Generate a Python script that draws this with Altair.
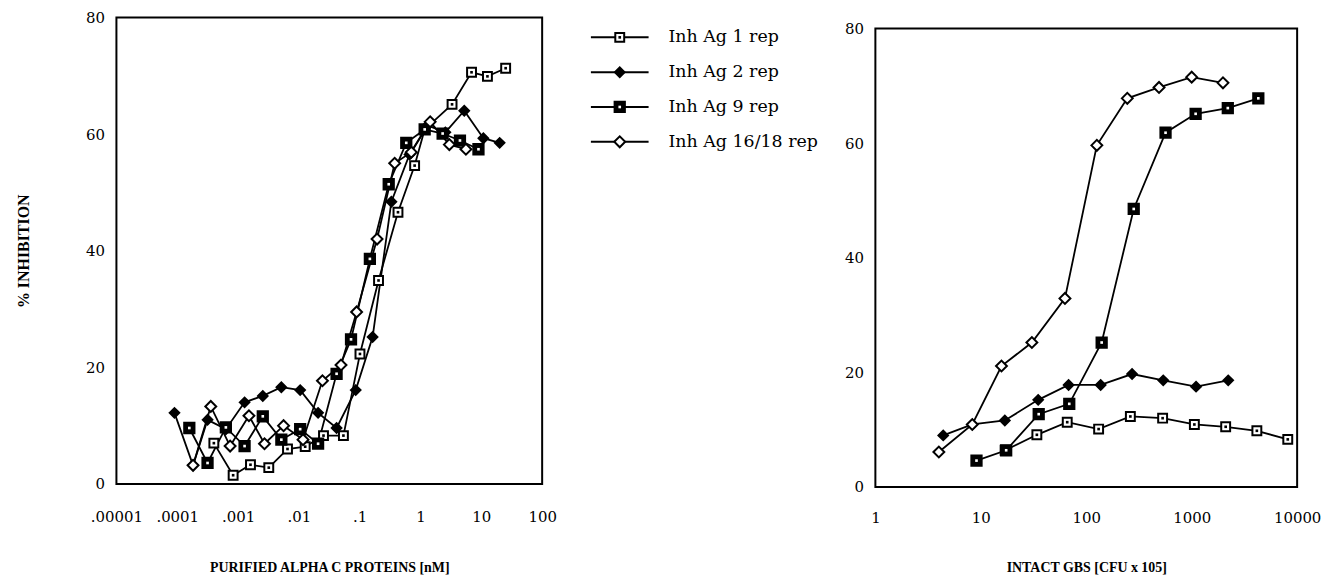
import math
import altair as alt
import pandas as pd

names = ["Inh Ag 1 rep", "Inh Ag 2 rep", "Inh Ag 9 rep", "Inh Ag 16/18 rep"]

# ---- left panel: purified alpha C proteins [nM]
left_ag1_x = [4.0e-4, 8.3e-4, 1.6e-3, 3.2e-3, 6.5e-3, 1.27e-2, 2.54e-2, 5.4e-2, 0.101, 0.204, 0.426, 0.80, 1.17, 3.3, 6.9, 12.6, 25.1]
left_ag1_y = [7.0, 1.5, 3.3, 2.8, 6.0, 6.4, 8.3, 8.3, 22.3, 34.9, 46.6, 54.6, 60.8, 65.1, 70.6, 69.9, 71.3]
left_ag2_x = [9.0e-5, 1.82e-4, 3.15e-4, 6.3e-4, 1.28e-3, 2.55e-3, 5.15e-3, 1.05e-2, 2.07e-2, 4.17e-2, 8.6e-2, 0.163, 0.332, 0.66, 1.30, 2.56, 5.24, 10.8, 20.0]
left_ag2_y = [12.2, 3.2, 11.0, 9.4, 14.0, 15.1, 16.6, 16.1, 12.2, 9.6, 16.1, 25.2, 48.4, 56.5, 61.5, 60.3, 64.0, 59.3, 58.5]
left_ag9_x = [1.58e-4, 3.15e-4, 6.3e-4, 1.28e-3, 2.55e-3, 5.15e-3, 1.05e-2, 2.07e-2, 4.17e-2, 7.2e-2, 0.147, 0.30, 0.583, 1.17, 2.31, 4.45, 8.97]
left_ag9_y = [9.6, 3.6, 9.7, 6.5, 11.6, 7.6, 9.4, 6.9, 18.9, 24.8, 38.6, 51.4, 58.5, 60.8, 60.1, 58.9, 57.4]
left_ag16_x = [1.82e-4, 3.56e-4, 7.4e-4, 1.51e-3, 2.72e-3, 5.6e-3, 1.17e-2, 2.44e-2, 4.93e-2, 8.9e-2, 0.193, 0.376, 0.705, 1.44, 2.98, 5.58]
left_ag16_y = [3.2, 13.3, 6.5, 11.7, 6.9, 10.0, 7.6, 17.7, 20.4, 29.5, 42.0, 55.0, 56.9, 62.1, 58.2, 57.4]

left_ticks = [1e-5, 1e-4, 1e-3, 1e-2, 1e-1, 1, 10, 100]
left_tick_labels = [".00001", ".0001", ".001", ".01", ".1", "1", "10", "100"]

# ---- right panel: intact GBS [CFU x 105]
right_ag1_x = [17, 34, 66, 131, 262, 530, 1060, 2100, 4150, 8150]
right_ag1_y = [6.4, 9.1, 11.3, 10.1, 12.3, 12.0, 10.9, 10.5, 9.8, 8.3]
right_ag2_x = [4.4, 8.3, 16.9, 35, 68, 137, 272, 537, 1100, 2220]
right_ag2_y = [9.0, 10.9, 11.6, 15.2, 17.8, 17.8, 19.7, 18.6, 17.5, 18.6]
right_ag9_x = [9.1, 17.4, 35.4, 69, 140, 282, 565, 1090, 2200, 4285]
right_ag9_y = [4.6, 6.4, 12.7, 14.5, 25.2, 48.5, 61.8, 65.1, 66.1, 67.8]
right_ag16_x = [4.0, 8.3, 15.7, 30.5, 62.8, 126, 245, 490, 1000, 1980]
right_ag16_y = [6.1, 10.9, 21.1, 25.2, 32.9, 59.6, 67.8, 69.7, 71.5, 70.5]

right_ticks = [1, 10, 100, 1000, 10000]
right_tick_labels = ["1", "10", "100", "1000", "10000"]

y_ticks = [0, 20, 40, 60, 80]

LABEL_FONT = "DejaVu Serif"
TITLE_FONT = "Liberation Serif"


def series_df(xs_list, ys_list):
    rows = []
    for name, xs, ys in zip(names, xs_list, ys_list):
        for x, y in zip(xs, ys):
            rows.append({"series": name, "x": x, "y": y})
    return pd.DataFrame(rows)


shape_scale = alt.Scale(domain=names, range=["square", "diamond", "square", "diamond"])
fill_scale = alt.Scale(domain=names, range=["white", "black", "black", "white"])
size_scale = alt.Scale(domain=names, range=[80, 120, 110, 90])
dot_scale = alt.Scale(domain=names, range=["black", "black", "white", "black"])


def panel(df, ticks, labels, xtitle, w, h, ytitle, label_pad, title_pad):
    off = int(round(math.log10(ticks[0])))
    label_expr = "[" + ",".join("'%s'" % l for l in labels) + "][round(log(datum.value)/LN10) - (%d)]" % off
    x = alt.X(
        "x:Q",
        scale=alt.Scale(type="log", domain=[ticks[0], ticks[-1]], nice=False),
        axis=alt.Axis(values=ticks, labelExpr=label_expr, title=xtitle, grid=False, ticks=False,
                      domain=False, labelPadding=label_pad, titlePadding=title_pad, labelFlush=False),
    )
    if ytitle:
        yaxis = alt.Axis(values=y_ticks, grid=False, ticks=False, domain=False, labelPadding=12,
                         title=ytitle, titlePadding=54, titleFontSize=16)
    else:
        yaxis = alt.Axis(values=y_ticks, grid=False, ticks=False, domain=False, labelPadding=12, title=None)
    y = alt.Y("y:Q", scale=alt.Scale(domain=[0, 80], nice=False), axis=yaxis)
    base = alt.Chart(df)
    line = base.mark_line(color="black", strokeWidth=1.8).encode(x=x, y=y, detail="series:N")
    pts = base.mark_point(stroke="black", strokeWidth=2, opacity=1).encode(
        x=x, y=y,
        shape=alt.Shape("series:N", scale=shape_scale, legend=None),
        fill=alt.Fill("series:N", scale=fill_scale, legend=None),
        size=alt.Size("series:N", scale=size_scale, legend=None),
    )
    dots = base.mark_point(filled=True, shape="square", size=7, opacity=1).encode(
        x=x, y=y, color=alt.Color("series:N", scale=dot_scale, legend=None)
    ).transform_filter(alt.FieldOneOfPredicate(field="series", oneOf=[names[0], names[2]]))
    return alt.layer(line, pts, dots).properties(
        width=w, height=h, view=alt.ViewBackground(stroke="black", strokeWidth=2)
    )


left_df = series_df([left_ag1_x, left_ag2_x, left_ag9_x, left_ag16_x],
                    [left_ag1_y, left_ag2_y, left_ag9_y, left_ag16_y])
right_df = series_df([right_ag1_x, right_ag2_x, right_ag9_x, right_ag16_x],
                     [right_ag1_y, right_ag2_y, right_ag9_y, right_ag16_y])

left = panel(left_df, left_ticks, left_tick_labels, "PURIFIED ALPHA C PROTEINS  [nM]", 428, 469,
             "% INHIBITION", 26, 36)
right_plot = panel(right_df, right_ticks, right_tick_labels, "INTACT GBS  [CFU x 105]", 424, 461,
                   None, 24, 35)

# invisible spacer that lowers the right panel a little, as in the original figure
spacer = alt.Chart(pd.DataFrame({"series": [names[0]]})).mark_point(opacity=0).encode(
    x=alt.value(0), y=alt.value(0)
).properties(width=424, height=1, view=alt.ViewBackground(strokeOpacity=0))
right = alt.vconcat(spacer, right_plot, spacing=0)

# ---- legend panel
leg_df = pd.DataFrame({"series": names})
ly = alt.Y("series:N", sort=names, axis=None, scale=alt.Scale(type="point", padding=0.5714))
lbase = alt.Chart(leg_df)
lrule = lbase.mark_rule(color="black", strokeWidth=2).encode(x=alt.value(23), x2=alt.value(81), y=ly)
lpts = lbase.mark_point(stroke="black", strokeWidth=2, opacity=1).encode(
    x=alt.value(52), y=ly,
    shape=alt.Shape("series:N", scale=shape_scale, legend=None),
    fill=alt.Fill("series:N", scale=fill_scale, legend=None),
    size=alt.Size("series:N", scale=size_scale, legend=None),
)
ldots = lbase.mark_point(filled=True, shape="square", size=7, opacity=1).encode(
    x=alt.value(52), y=ly, color=alt.Color("series:N", scale=dot_scale, legend=None)
).transform_filter(alt.FieldOneOfPredicate(field="series", oneOf=[names[0], names[2]]))
ltxt = lbase.mark_text(align="left", baseline="middle", font=LABEL_FONT, fontSize=17.5, color="black").encode(
    x=alt.value(101), y=ly, text="series:N"
)
legend = alt.layer(lrule, lpts, ldots, ltxt).properties(
    width=266, height=145, view=alt.ViewBackground(strokeOpacity=0)
)

chart = alt.hconcat(left, legend, right, spacing=10).properties(
    padding={"left": 6, "top": 0, "right": 0, "bottom": 0}
).configure_axis(
    labelFont=LABEL_FONT, labelFontSize=15, labelColor="black",
    titleFont=TITLE_FONT, titleFontWeight="bold", titleColor="black", titleFontSize=14,
).configure_view(stroke=None)

chart.save("out.html", embed_options={"renderer": "svg", "actions": False})
